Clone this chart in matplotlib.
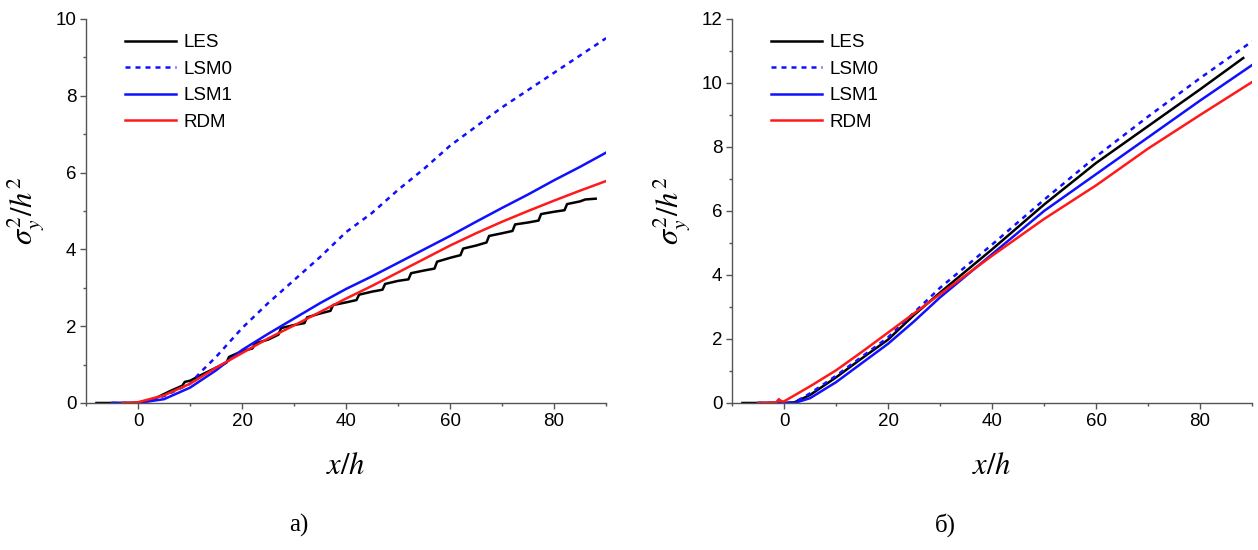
import numpy as np
import matplotlib
matplotlib.use("Agg")
import matplotlib.pyplot as plt
from matplotlib.ticker import MultipleLocator

plt.rcParams['font.family'] = ['Liberation Sans', 'DejaVu Sans']
plt.rcParams['mathtext.fontset'] = 'stix'

# --- panel a): transverse dispersion, case 1 ---
# LES curve has a small staircase pattern, so it keeps the paired points at each jump
les_a_x = [-8, -4, 0, 3, 6, 8.5, 9, 10, 12, 15, 17, 17.5, 20, 22, 22.5, 25, 27, 27.5, 30,
           32, 32.5, 35, 37, 37.5, 40, 42, 42.5, 45, 47, 47.5, 50, 52, 52.5, 55, 57, 57.5,
           60, 62, 62.5, 65, 67, 67.5, 70, 72, 72.5, 75, 77, 77.5, 80, 82, 82.5, 85, 86, 88]
les_a_y = [0, 0, 0, 0.1, 0.3, 0.45, 0.55, 0.58, 0.72, 0.92, 1.05, 1.2, 1.35, 1.42, 1.55,
           1.65, 1.78, 1.95, 2.03, 2.08, 2.23, 2.33, 2.4, 2.55, 2.62, 2.68, 2.82, 2.9, 2.95,
           3.1, 3.18, 3.22, 3.38, 3.45, 3.5, 3.68, 3.78, 3.85, 4.02, 4.1, 4.18, 4.35, 4.42,
           4.48, 4.65, 4.7, 4.75, 4.92, 4.98, 5.02, 5.18, 5.25, 5.3, 5.32]
lsm0_a_x = [-5, 0, 5, 10, 12, 15, 20, 25, 30, 35, 40, 45, 50, 55, 60, 65, 70, 75, 80, 85, 90]
lsm0_a_y = [0, 0, 0.18, 0.5, 0.8, 1.2, 1.95, 2.6, 3.2, 3.8, 4.45, 4.95, 5.55, 6.1, 6.7, 7.2,
            7.7, 8.15, 8.6, 9.05, 9.5]
lsm1_a_x = [-5, 0, 5, 10, 15, 20, 25, 30, 35, 40, 45, 50, 55, 60, 65, 70, 75, 80, 85, 90]
lsm1_a_y = [0, 0, 0.1, 0.4, 0.85, 1.38, 1.8, 2.2, 2.6, 2.97, 3.3, 3.65, 4.0, 4.35, 4.72, 5.08,
            5.43, 5.8, 6.15, 6.52]
rdm_a_x = [-3, 0, 5, 10, 15, 20, 25, 30, 35, 40, 45, 50, 55, 60, 65, 70, 75, 80, 85, 90]
rdm_a_y = [0, 0.02, 0.2, 0.5, 0.92, 1.3, 1.68, 2.02, 2.37, 2.72, 3.05, 3.4, 3.75, 4.1, 4.42,
           4.72, 5.0, 5.27, 5.53, 5.78]

# --- panel б): transverse dispersion, case 2 ---
les_b_x = [-8, 0, 2, 5, 10, 15, 20, 25, 30, 40, 50, 60, 70, 80, 88.3]
les_b_y = [0, 0, 0.02, 0.25, 0.8, 1.4, 1.98, 2.75, 3.45, 4.8, 6.2, 7.5, 8.65, 9.8, 10.78]
lsm0_b_x = [-5, 0, 2, 5, 10, 15, 20, 30, 40, 50, 60, 70, 80, 90]
lsm0_b_y = [0, 0, 0.02, 0.3, 0.85, 1.45, 2.05, 3.6, 4.95, 6.35, 7.7, 8.95, 10.15, 11.3]
lsm1_b_x = [-5, 0, 2, 5, 10, 15, 20, 25, 30, 40, 50, 60, 70, 80, 90]
lsm1_b_y = [0, 0, 0, 0.15, 0.65, 1.25, 1.85, 2.55, 3.3, 4.65, 6.0, 7.15, 8.3, 9.45, 10.56]
rdm_b_x = [-5, -1.5, -1, -0.5, 0, 5, 10, 15, 20, 25, 30, 40, 50, 60, 70, 80, 90]
rdm_b_y = [0, 0.02, 0.12, 0.05, 0.05, 0.52, 1.02, 1.6, 2.2, 2.8, 3.4, 4.6, 5.75, 6.8, 7.95, 9.0, 10.03]

labels = ['LES', 'LSM0', 'LSM1', 'RDM']
colors = ['black', '#1010ff', '#1010ff', '#ff1a1a']
styles = ['-', (0, (2.0, 2.0)), '-', '-']

fig = plt.figure(figsize=(12.58, 5.5), dpi=100)
ax_a = fig.add_axes([0.0684, 0.2673, 0.4134, 0.6982])
ax_b = fig.add_axes([0.5819, 0.2673, 0.4134, 0.6982])

panels = [
    (ax_a, [(les_a_x, les_a_y), (lsm0_a_x, lsm0_a_y), (lsm1_a_x, lsm1_a_y), (rdm_a_x, rdm_a_y)], 10, 'а)'),
    (ax_b, [(les_b_x, les_b_y), (lsm0_b_x, lsm0_b_y), (lsm1_b_x, lsm1_b_y), (rdm_b_x, rdm_b_y)], 12, 'б)'),
]

for ax, series, ymax, tag in panels:
    for (x, y), lab, c, ls in zip(series, labels, colors, styles):
        ax.plot(x, y, color=c, linestyle=ls, linewidth=1.8, label=lab)
    ax.set_xlim(-10, 90)
    ax.set_ylim(0, ymax)
    ax.xaxis.set_major_locator(MultipleLocator(20))
    ax.xaxis.set_minor_locator(MultipleLocator(10))
    ax.yaxis.set_major_locator(MultipleLocator(2))
    ax.yaxis.set_minor_locator(MultipleLocator(1))
    for side in ['top', 'right']:
        ax.spines[side].set_visible(False)
    for side in ['left', 'bottom']:
        ax.spines[side].set_color('#555555')
        ax.spines[side].set_linewidth(1.0)
    ax.tick_params(which='major', direction='out', length=4, width=1, color='#555555',
                   labelsize=13.5, pad=3)
    ax.tick_params(which='minor', direction='out', length=2.5, width=1, color='#555555')
    ax.set_xlabel('$x/h$', fontsize=22, labelpad=15)
    ax.set_ylabel(r'$\sigma_y^2/h^2$', fontsize=22, labelpad=6)
    ax.legend(loc='upper left', bbox_to_anchor=(0.075, 0.96), frameon=False, fontsize=13.5,
              handlelength=2.7, handletextpad=0.4, labelspacing=0.5, borderpad=0, borderaxespad=0)
    bb = ax.get_position()
    fig.text(bb.x0 + bb.width * 0.41, 0.045, tag, family='Liberation Serif', fontsize=18,
             ha='center', va='center')

fig.savefig('out.png', dpi=100)
